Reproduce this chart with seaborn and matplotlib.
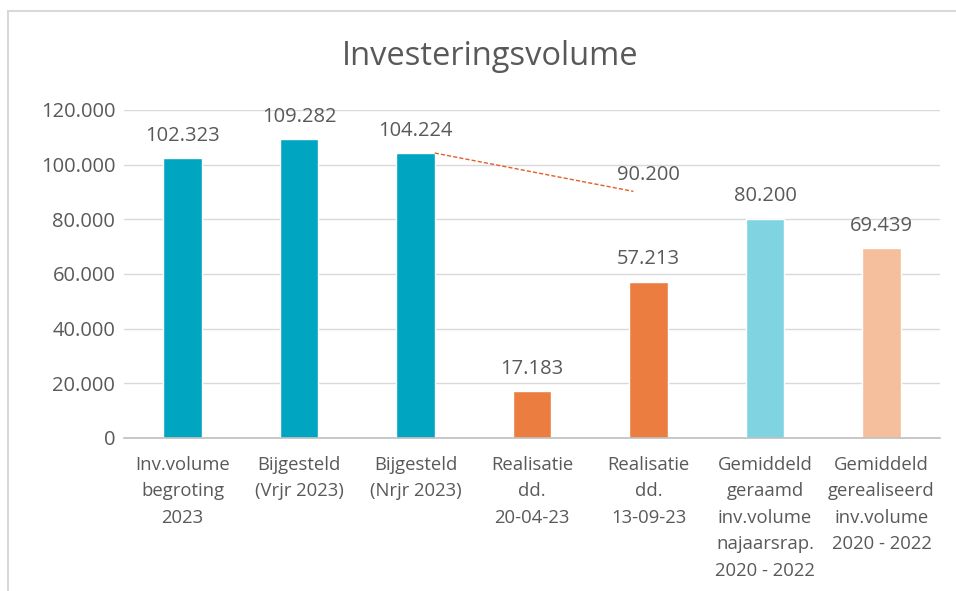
import matplotlib
matplotlib.use("Agg")
import matplotlib.pyplot as plt
import seaborn as sns
import pandas as pd
from matplotlib.lines import Line2D

# =========================
# Data
# =========================
categories = [
    "Inv.volume\nbegroting\n2023",
    "Bijgesteld\n(Vrjr 2023)",
    "Bijgesteld\n(Nrjr 2023)",
    "Realisatie\ndd.\n20-04-23",
    "Realisatie\ndd.\n13-09-23",
    "Gemiddeld\ngeraamd\ninv.volume\nnajaarsrap.\n2020 - 2022",
    "Gemiddeld\ngerealiseerd\ninv.volume\n2020 - 2022",
]
values = [102323, 109282, 104224, 17183, 57213, 80200, 69439]
bar_colors = ["#00A6C1", "#00A6C1", "#00A6C1", "#EB7D40", "#EB7D40", "#80D4E1", "#F5BE9C"]

# prognose lijn van bijgesteld (Nrjr) naar verwachte realisatie
trend_values = [104224, 90200]
trend_label = "90.200"

yticks = [0, 20000, 40000, 60000, 80000, 100000, 120000]


def fmt(v):
    return f"{v:,.0f}".replace(",", ".")


df = pd.DataFrame({"cat": categories, "val": values})

sns.set_theme(style="white")
plt.rcParams["font.family"] = ["Open Sans", "DejaVu Sans"]
text_col = "#595959"

fig = plt.figure(figsize=(9.56, 5.91), dpi=100)
ax = fig.add_axes([0.130, 0.259, 0.853, 0.555])

sns.barplot(data=df, x="cat", y="val", hue="cat", palette=bar_colors,
            legend=False, width=0.33, ax=ax, saturation=1)

# data labels
for i, v in enumerate(values):
    ax.text(i, v + 4500, fmt(v), ha="center", va="bottom", fontsize=14.5, color=text_col)

# gestippelde lijn
ax.plot([2 + 0.165, 4 - 0.13], trend_values, linestyle=(0, (3, 1.5)),
        color="#E0602A", linewidth=1.0)
ax.text(4, trend_values[1] + 2200, trend_label, ha="center", va="bottom",
        fontsize=14.5, color=text_col)

ax.set_ylim(0, 120000)
ax.set_xlim(-0.5, 6.5)
ax.set_yticks(yticks)
ax.set_yticklabels([fmt(t) for t in yticks], fontsize=14.5, color=text_col)
ax.set_xticks(range(len(categories)))
ax.set_xticklabels(categories, fontsize=13.3, color=text_col, linespacing=1.6)
ax.tick_params(axis="both", length=0)
ax.tick_params(axis="x", pad=13)
ax.tick_params(axis="y", pad=6.5)
ax.set_xlabel("")
ax.set_ylabel("")
ax.yaxis.grid(True, color="#D9D9D9", linewidth=1)
ax.set_axisbelow(True)
for s in ["left", "right", "top"]:
    ax.spines[s].set_visible(False)
ax.spines["bottom"].set_color("#BFBFBF")
ax.spines["bottom"].set_linewidth(1.2)

fig.text(0.513, 0.905, "Investeringsvolume", ha="center", va="center",
         fontsize=23.5, color=text_col)

# rand rondom grafiek
fig.add_artist(Line2D([0.0087, 0.0087], [0, 0.981], transform=fig.transFigure,
                      color="#D9D9D9", linewidth=1.5))
fig.add_artist(Line2D([0.0087, 1.0], [0.981, 0.981], transform=fig.transFigure,
                      color="#D9D9D9", linewidth=1.5))

fig.savefig("out.png", dpi=100, facecolor="white")
